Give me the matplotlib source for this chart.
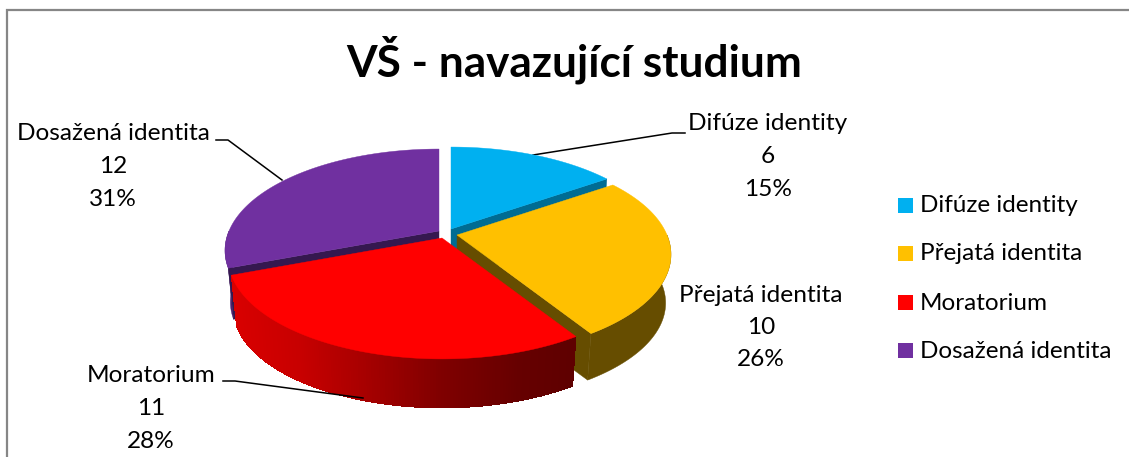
import numpy as np
import matplotlib
matplotlib.use("Agg")
import matplotlib.pyplot as plt
from matplotlib.patches import Polygon, Rectangle

categories = ["Difúze identity", "Přejatá identita", "Moratorium", "Dosažená identita"]
values = [6, 10, 11, 12]
top_colors = ["#00B0F0", "#FFC000", "#FF0000", "#7030A0"]
title = "VŠ - navazující studium"

FONT = "Lato"
W, H = 1129, 457
fig = plt.figure(figsize=(W / 100, H / 100), dpi=100)
ax = fig.add_axes([0, 0, 1, 1])
ax.set_xlim(0, W); ax.set_ylim(H, 0); ax.axis("off")

# frame (bottom and right edges are cropped away)
ax.plot([7, 7, W + 5], [H + 5, 10, 10], color="#868686", lw=1.6, solid_joinstyle="miter", zorder=1)

# projection of the pie disc
K, RX, RY = 0.192, 210.0, 97.7
SHRINK = 0.975
drops = [52.0, 49.0, 52.0, 52.0]

total = sum(values)
cum = np.concatenate([[0], np.cumsum(values)]) / total * 2 * np.pi
apex = [(451, 229), (457, 235), (442, 238), (439, 231)]

def proj(theta, i, bottom=False, r=1.0):
    cx, cy = apex[i]
    u, v = r * np.sin(theta), r * np.cos(theta)
    d = 1 + K * v
    x, y = RX * u / d, -RY * v / d
    if bottom:
        return cx + SHRINK * x, cy + SHRINK * y + drops[i]
    return cx + x, cy + y

def arc(i, n=200):
    return np.linspace(cum[i], cum[i + 1], n)

def top_poly(i):
    x, y = proj(arc(i), i)
    return np.column_stack([np.r_[apex[i][0], x], np.r_[apex[i][1], y]])

def edge_wall(i, theta, color, z):
    x0, y0 = proj(theta, i)
    x1, y1 = proj(theta, i, bottom=True)
    bx, by = proj(theta, i, bottom=True, r=0.0)
    ax.add_patch(Polygon([apex[i], (x0, y0), (x1, y1), (bx, by)], fc=color, ec=color, lw=0.3, zorder=z))

def flat_wall(i, t0, t1, color, z):
    ts = np.linspace(t0, t1, 160)
    xt, yt = proj(ts, i)
    xb, yb = proj(ts, i, bottom=True)
    pts = np.column_stack([np.r_[xt, xb[::-1]], np.r_[yt, yb[::-1]]])
    ax.add_patch(Polygon(pts, fc=color, ec=color, lw=0.3, zorder=z))

def shaded_wall(i, t0, t1, colorfn, z):
    ts = np.linspace(t0, t1, 160)
    xt, yt = proj(ts, i)
    xb, yb = proj(ts, i, bottom=True)
    for j in range(len(ts) - 1):
        k = min(j + 2, len(ts) - 1)
        c = colorfn(0.5 * (xt[j] + xt[j + 1]))
        ax.add_patch(Polygon([(xt[j], yt[j]), (xt[k], yt[k]), (xb[k], yb[k]), (xb[j], yb[j])],
                             fc=c, ec="none", antialiased=False, zorder=z))

def red_shade(x):
    f = np.interp(x, [231, 300, 440, 520, 576], [0.85, 0.78, 0.50, 0.40, 0.37])
    return (f, 0, 0)

# leader lines
for xs, ys, z in [([216, 228, 282], [140, 140, 180], 2),
                  ([685, 672, 533], [133, 133, 155], 2),
                  ([223, 235, 363], [381, 381, 398], 9)]:
    ax.plot(xs, ys, color="black", lw=1.1, zorder=z)

# back pieces first
edge_wall(0, cum[1], "#006C93", 3)
ax.add_patch(Polygon(top_poly(0), fc=top_colors[0], ec=top_colors[0], lw=0.3, zorder=4))
flat_wall(3, cum[3], np.deg2rad(270), "#4F2272", 3)
edge_wall(3, cum[3], "#35184F", 3)
ax.add_patch(Polygon(top_poly(3), fc=top_colors[3], ec=top_colors[3], lw=0.3, zorder=4))
# yellow
flat_wall(1, np.deg2rad(90), cum[2], "#664D00", 5)
edge_wall(1, cum[2], "#664D00", 5)
ax.add_patch(Polygon(top_poly(1), fc=top_colors[1], ec=top_colors[1], lw=0.3, zorder=6))
# red
shaded_wall(2, cum[2], cum[3], red_shade, 7)
ax.add_patch(Polygon(top_poly(2), fc=top_colors[2], ec=top_colors[2], lw=0.3, zorder=8))

# title
ax.text(574, 60, title, ha="center", va="center", fontsize=31.8, fontweight="bold", family=FONT, color="black", zorder=10)

# data labels
label_fs = 17.6
label_pos = [(768, 124), (761, 295), (151, 376), (113, 134)]
for cat, val, (lx, ly) in zip(categories, values, label_pos):
    pct = f"{round(100 * val / total)}%"
    for k, s in enumerate([cat, str(val), pct]):
        ax.text(lx, ly + k * 32.5, s, ha="center", va="center", fontsize=label_fs, family=FONT, color="black", zorder=10)

# legend
leg_y = [198, 246, 295, 343]
for cat, col, y in zip(categories, top_colors, leg_y):
    ax.add_patch(Rectangle((898, y), 15, 15, fc=col, ec="none", zorder=10))
    ax.text(920, y + 8, cat, ha="left", va="center", fontsize=17.5, family=FONT, color="black", zorder=10)

fig.savefig("out.png", dpi=100)
